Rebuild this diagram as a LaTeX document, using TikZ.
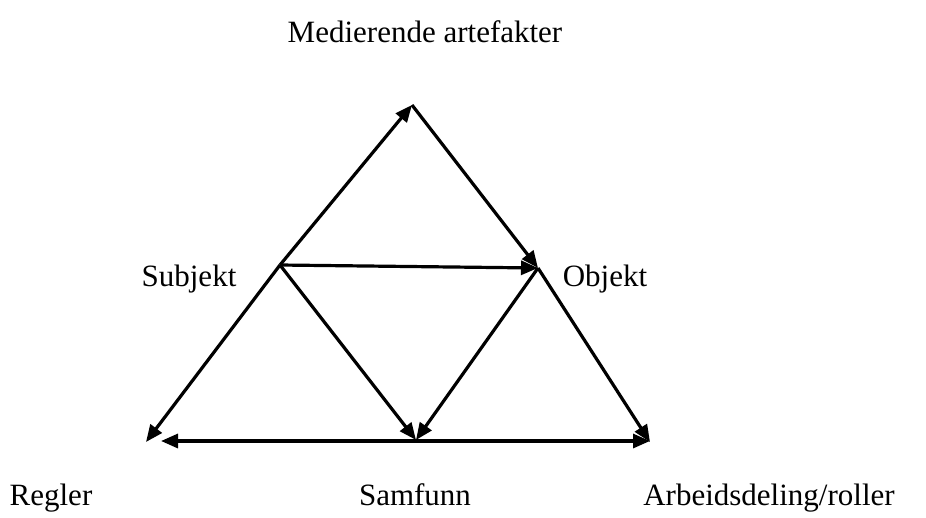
\documentclass[tikz,border=0pt]{standalone}
\usepackage{fontspec}
\setmainfont{Liberation Serif}
\usetikzlibrary{arrows.meta}
\begin{document}
\begin{tikzpicture}[x=1pt,y=-1pt,
  edge/.style={line width=3.2pt,-{Triangle[length=17pt,width=14pt]}},
  dedge/.style={line width=3.2pt,{Triangle[length=17pt,width=14pt]}-{Triangle[length=17pt,width=14pt]}},
  lbl/.style={font=\fontsize{31}{36}\selectfont,inner sep=0pt,anchor=base}]
\useasboundingbox (0,0) rectangle (926,517);
\coordinate (top) at (412,105);
\coordinate (sub) at (280,265);
\coordinate (obj) at (538,268);
\coordinate (bl) at (146,442);
\coordinate (br) at (650,442);
\coordinate (sam) at (416,440);
\coordinate (hl) at (161,441);
\coordinate (hr) at (650,441);
\draw[edge] (sub) -- (top);
\draw[edge] (top) -- (obj);
\draw[edge] (sub) -- (bl);
\draw[edge] (obj) -- (br);
\draw[edge] (sub) -- (obj);
\draw[edge] (sub) -- (sam);
\draw[edge] (obj) -- (sam);
\draw[dedge] (hl) -- (hr);
\node[lbl] (med) at (425,42) {Medierende artefakter};
\node[lbl] (subl) at (189,286) {Subjekt};
\node[lbl] (objl) at (605,286) {Objekt};
\node[lbl] (reg) at (51,505) {Regler};
\node[lbl] (saml) at (415,505) {Samfunn};
\node[lbl] (arb) at (769,505) {Arbeidsdeling/roller};
\end{tikzpicture}
\end{document}
